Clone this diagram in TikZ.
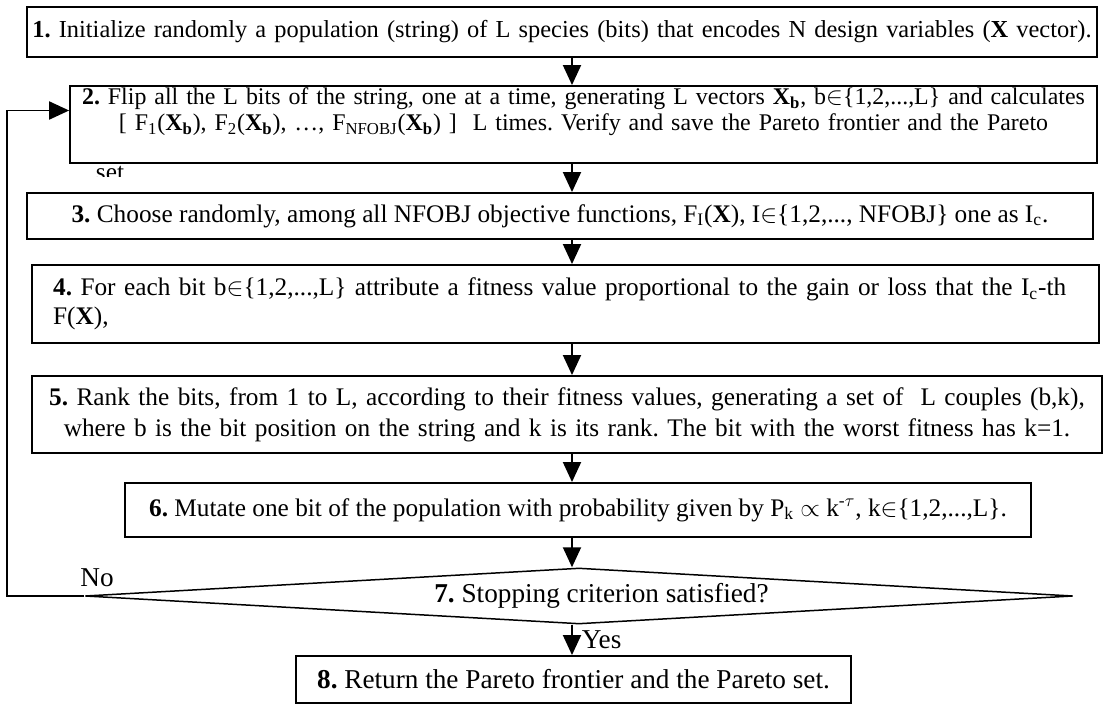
\documentclass[tikz,border=0pt]{standalone}
\usepackage{fontspec}
\setmainfont{Liberation Serif}
\usetikzlibrary{arrows.meta,shapes.geometric}
\frenchspacing

\newcommand{\Xvec}{\textbf{X}}
\newcommand{\Xbit}{\textbf{X}\textsubscript{\textbf{b}}}
\newcommand{\fullline}[1]{\makebox[\linewidth]{#1}}

\tikzset{
  stepbox/.style={draw, line width=1.1pt, rectangle, inner sep=0pt, align=center},
  query/.style={draw, line width=0.85pt, diamond, inner sep=0pt, aspect=17.6},
  flow/.style={line width=1.1pt, -{Triangle[length=0.4cm,width=0.36cm]}},
  lbl/.style={inner sep=1pt, font=\fontsize{15.5}{17}\selectfont},
}

\begin{document}
\begin{tikzpicture}[x=0.02cm, y=-0.02cm, font=\fontsize{14.4}{16.5}\selectfont]
\useasboundingbox (0,0) rectangle (1117,706);
\coordinate (spine) at (572,0);
\coordinate (back) at (7,0);

% steps of the loop
\node[stepbox, minimum width=21.42cm, minimum height=1cm, text width=21.1cm,
      font=\fontsize{13.9}{16}\selectfont] (s1) at (562,32)
  {\fullline{\textbf{1.} Initialize randomly a population (string) of L species (bits) that encodes N design variables (\Xvec{} vector).}};
\node[stepbox, minimum width=20.54cm, minimum height=1.54cm, text width=20.5cm, text depth=1.12cm,
      font=\fontsize{13.6}{14.6}\selectfont] (s2) at (583.5,124.5)
  {\fullline{\textbf{2.} Flip all the L bits of the string, one at a time, generating L vectors \Xbit, b$\in$\{1,2,...,L\} and calculates}\\
   \fullline{{[} F\textsubscript{1}(\Xbit), F\textsubscript{2}(\Xbit), \ldots, F\textsubscript{NFOBJ}(\Xbit) ]\ \ L times. Verify and save the Pareto frontier and the Pareto}};
\begin{scope}
  \clip (90,165) rectangle (140,177);
  \node[inner sep=1pt] (s2tail) at (110,174) {set};
\end{scope}
\node[stepbox, minimum width=21.32cm, minimum height=0.92cm] (s3) at (560,216)
  {\textbf{3.} Choose randomly, among all NFOBJ objective functions, F\textsubscript{I}(\Xvec), I$\in$\{1,2,..., NFOBJ\} one as I\textsubscript{c}.};
\node[stepbox, minimum width=21.34cm, minimum height=1.56cm, text width=20.5cm, align=left] (s4) at (565.5,304)
  {\textbf{4.} For each bit b$\in$\{1,2,...,L\} attribute a fitness value proportional to the gain or loss that the I\textsubscript{c}-th\\
   F(\Xvec),};
\node[stepbox, minimum width=21.40cm, minimum height=1.54cm, text width=21.3cm,
      font=\fontsize{14.4}{17.5}\selectfont] (s5) at (567,414.5)
  {\textbf{5.} Rank the bits, from 1 to L, according to their fitness values, generating a set of\ \ L couples (b,k),\\
   where b is the bit position on the string and k is its rank. The bit with the worst fitness has k=1.};
\node[stepbox, minimum width=18.12cm, minimum height=1.08cm] (s6) at (578,510)
  {\textbf{6.} Mutate one bit of the population with probability given by P\textsubscript{k} $\propto$ k\textsuperscript{-$\tau$}, k$\in$\{1,2,...,L\}.};
\node[query, minimum width=19.76cm, minimum height=1.12cm, font=\fontsize{15.5}{17}\selectfont] (stop) at (579,596)
  {\hspace*{0.9cm}\textbf{7.} Stopping criterion satisfied?};
\node[stepbox, minimum width=11.10cm, minimum height=0.94cm, font=\fontsize{15.5}{17}\selectfont] (s8) at (573.5,679.5)
  {\textbf{8.} Return the Pareto frontier and the Pareto set.};

% arrows down the middle
\draw[flow] (s1.south -| spine) -- (s2.north -| spine);
\draw[flow] (s2.south -| spine) -- (s3.north -| spine);
\draw[flow] (s3.south -| spine) -- (s4.north -| spine);
\draw[flow] (s4.south -| spine) -- (s5.north -| spine);
\draw[flow] (s5.south -| spine) -- (s6.north -| spine);
\draw[flow] (s6.south -| spine) -- (stop.north -| spine);
\draw[flow] (stop.south -| spine) -- node[lbl, right=4pt] (yes) {Yes} (s8.north -| spine);

% loop back
\node[lbl] (no) at (97,578) {No};
\draw[flow] (stop.west) -- (stop.west -| back) -- ([yshift=0.28cm]s2.west -| back) -- ([yshift=0.28cm]s2.west);
\end{tikzpicture}
\end{document}
